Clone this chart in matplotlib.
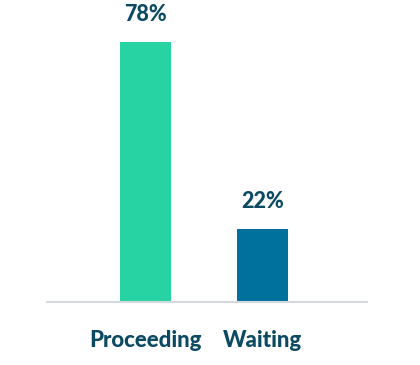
import matplotlib
matplotlib.use("Agg")
import matplotlib.pyplot as plt

categories = ["Proceeding", "Waiting"]
values = [78, 22]
value_labels = ["78%", "22%"]
colors = ["#27d3a2", "#00709c"]
text_color = "#0c4a63"

plt.rcParams['font.family'] = ['Lato', 'DejaVu Sans']

fig = plt.figure(figsize=(4.2, 3.65), dpi=100)
ax = fig.add_axes([47/420, 63/365, 320/420, 302/365])
x = list(range(len(categories)))
bars = ax.bar(x, values, width=0.436, color=colors)
ax.set_xlim(-0.842, 1.893)
ax.set_ylim(0, 90.6)
for xi, v, lab in zip(x, values, value_labels):
    ax.annotate(lab, (xi, v), xytext=(0, 12), textcoords="offset points",
                ha="center", va="bottom", fontsize=15.5, fontweight="black", color=text_color)
ax.set_xticks(x)
ax.set_xticklabels(categories, fontsize=16, fontweight="black", color=text_color)
ax.tick_params(axis="x", length=0, pad=20)
ax.set_yticks([])
for s in ["top", "right", "left"]:
    ax.spines[s].set_visible(False)
ax.spines["bottom"].set_color("#d5d8de")
ax.spines["bottom"].set_linewidth(1.5)
fig.savefig("out.png", dpi=100)
